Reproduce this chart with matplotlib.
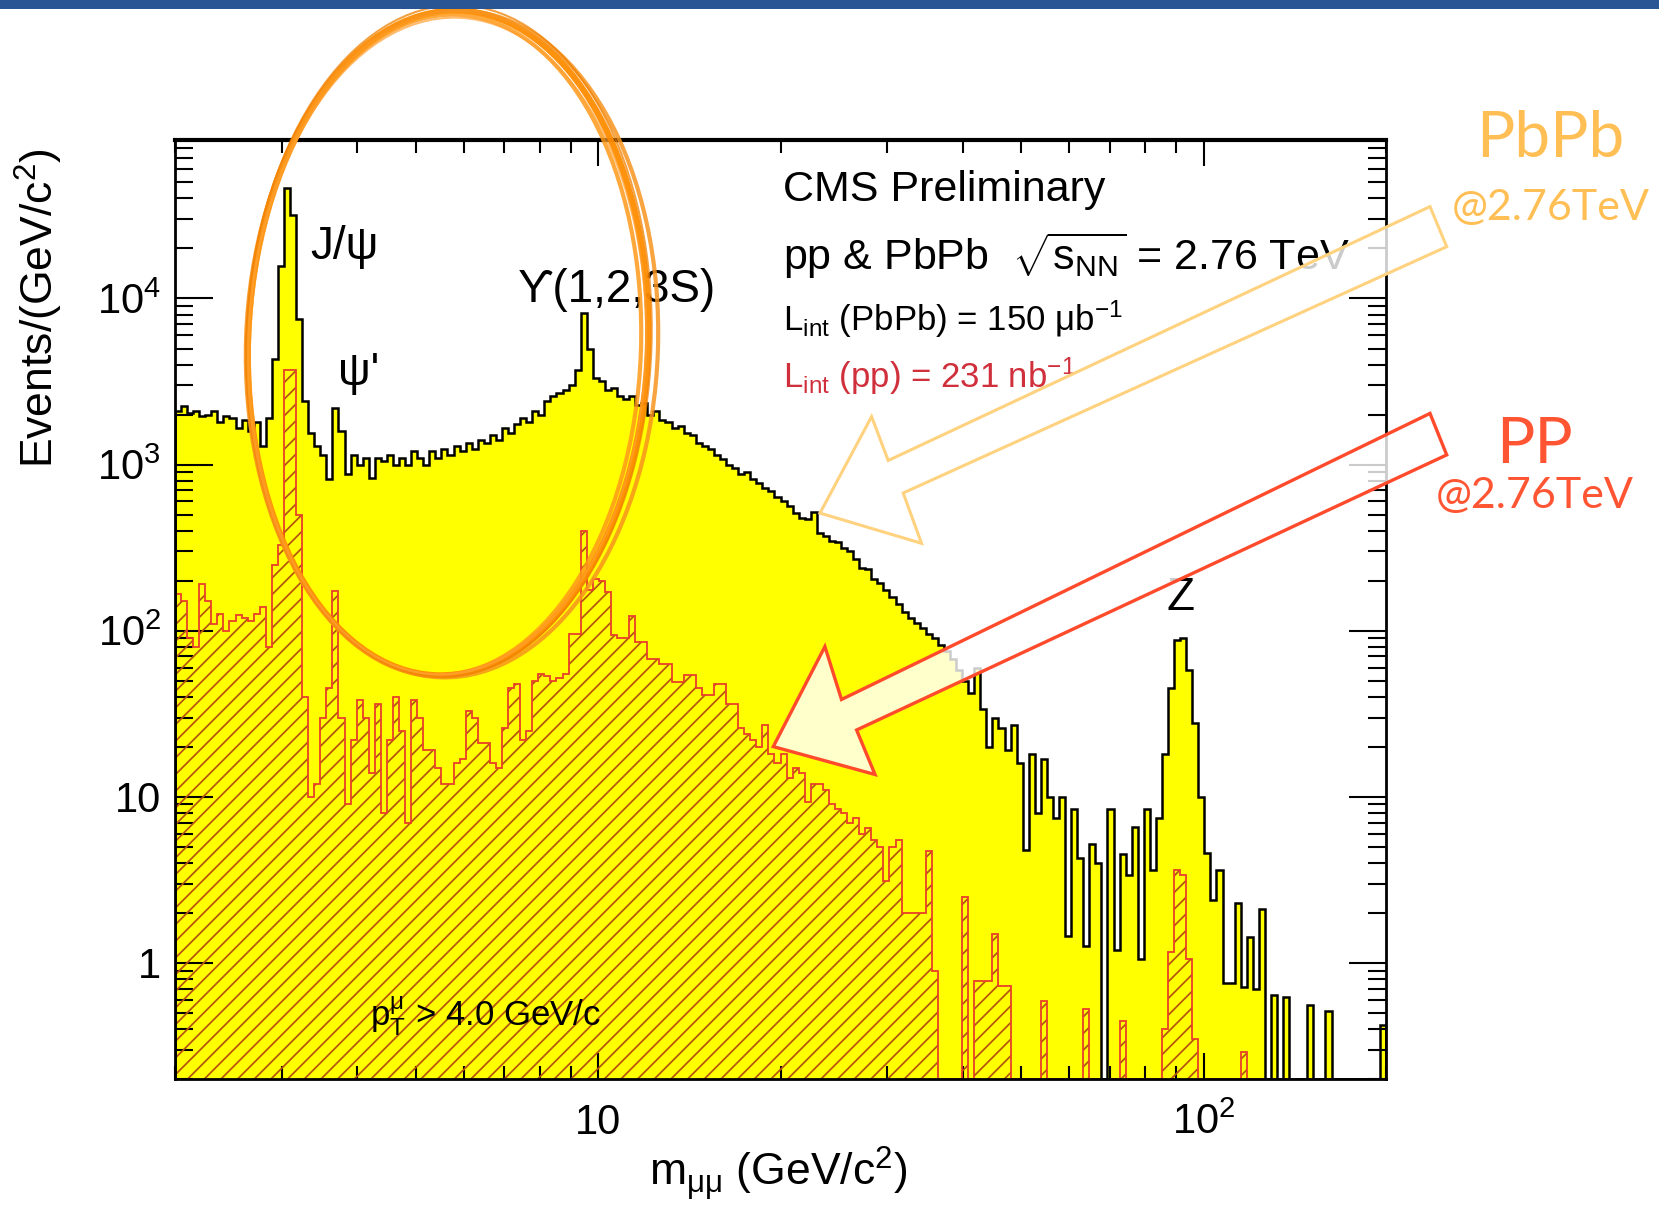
import numpy as np
import matplotlib
matplotlib.use("Agg")
import matplotlib.pyplot as plt
import matplotlib.patches as mpatches
import matplotlib.transforms as mtransforms
from matplotlib.ticker import FixedLocator, FixedFormatter, NullFormatter

plt.rcParams["font.family"] = ["Liberation Sans", "DejaVu Sans"]
plt.rcParams["mathtext.fontset"] = "custom"
plt.rcParams["mathtext.rm"] = "Liberation Sans"
plt.rcParams["mathtext.it"] = "Liberation Sans:italic"
plt.rcParams["mathtext.bf"] = "Liberation Sans:bold"
plt.rcParams["hatch.linewidth"] = 1.25

# dimuon mass spectrum, log-spaced bins from 2 to 200 GeV/c^2
mass_range = (2.0, 200.0)
n_bins = 200

pbpb_counts = [
    2100, 2250, 2050, 2100, 1950, 2000, 2100, 1800, 1950, 1900,
    1650, 1850, 1600, 1800, 1300, 1900, 4300, 15600, 46000, 32000,
    7500, 2400, 1550, 1300, 1150, 820, 2200, 1600, 880, 1150,
    1000, 1100, 830, 1100, 1050, 1150, 1000, 1100, 1000, 1200,
    1100, 1000, 1200, 1100, 1250, 1150, 1300, 1200, 1350, 1250,
    1400, 1350, 1500, 1400, 1650, 1550, 1750, 1900, 1800, 2100,
    2000, 2400, 2600, 2700, 2800, 3000, 3700, 8200, 5000, 3300,
    3200, 2800, 2900, 2600, 2500, 2600, 2300, 2350, 2000, 2100,
    1850, 1800, 1650, 1700, 1550, 1500, 1350, 1300, 1250, 1150,
    1080, 1000, 950, 880, 900, 820, 780, 720, 690, 640,
    600, 560, 510, 480, 470, 520, 390, 370, 345, 340,
    315, 300, 270, 240, 235, 205, 195, 175, 160, 145,
    130, 120, 112, 104, 96, 90, 82, 75, 68, 58,
    50, 42, 60, 34, 20, 30, 26, 19, 27, 16,
    4.8, 18, 8, 17, 10, 7.5, 10, 1.45, 8.4, 4.3,
    1.27, 5.2, 4.0, 0, 8.4, 1.2, 4.5, 3.4, 6.6, 1.05,
    8.4, 3.6, 7.5, 18, 45, 88, 90, 58, 28, 10,
    4.6, 2.4, 3.6, 0.76, 0.76, 2.3, 0.72, 1.44, 0.7, 2.1,
    0, 0.64, 0, 0.62, 0, 0, 0, 0.56, 0, 0,
    0.51, 0, 0, 0, 0, 0, 0, 0, 0, 0.42,
]

pp_counts = [
    166, 150, 90, 80, 191, 150, 110, 126, 100, 115,
    125, 120, 115, 126, 138, 80, 250, 330, 3700, 3700,
    500, 40, 10, 12, 30, 45, 174, 30, 9, 22,
    38, 30, 14, 36, 8, 22, 40, 25, 7, 38,
    30, 19, 19, 15, 12, 12, 16, 17, 33, 30,
    21, 21, 16, 15, 26, 45, 48, 22, 25, 50,
    55, 53, 50, 52, 55, 95, 95, 400, 175, 205,
    200, 170, 94, 90, 90, 123, 86, 86, 68, 68,
    63, 63, 49, 49, 54, 54, 45, 41, 41, 48,
    48, 36, 36, 26, 24, 22, 20, 27, 18, 16,
    18, 13, 15, 14, 9.3, 12, 12, 11, 9, 8.5,
    8, 7, 7.5, 6, 6.5, 5.5, 5, 3.1, 5, 5.5,
    2.0, 2.0, 2.0, 2.0, 4.7, 0.9, 0, 0, 0, 0,
    2.5, 0, 0.78, 0.78, 0.78, 1.5, 0.73, 0.73, 0, 0,
    0, 0, 0, 0.59, 0, 0, 0, 0, 0, 0,
    0.53, 0, 0, 0, 0, 0, 0.45, 0, 0, 0,
    0, 0, 0, 0.4, 1.16, 3.6, 3.4, 1.05, 0.35, 0,
    0, 0, 0, 0, 0, 0, 0.29, 0, 0, 0,
    0, 0, 0, 0, 0, 0, 0, 0, 0, 0,
    0, 0, 0, 0, 0, 0, 0, 0, 0, 0,
]

y_range = (0.2, 9e4)
y_ticks = [1, 10, 1e2, 1e3, 1e4]
y_tick_labels = ["1", "10", "$10^{2}$", "$10^{3}$", "$10^{4}$"]
x_ticks = [10, 100]
x_tick_labels = ["10", "$10^{2}$"]

W, H = 1659, 1205
fig = plt.figure(figsize=(W / 100, H / 100), dpi=100)
# pixel coordinates measured from the top-left corner
pix = mtransforms.Affine2D().scale(1 / W, -1 / H).translate(0, 1) + fig.transFigure

ax = fig.add_axes([175 / W, 1 - 1079 / H, (1386 - 175) / W, (1079 - 140) / H])
ax.set_xscale("log")
ax.set_yscale("log")
ax.set_xlim(*mass_range)
ax.set_ylim(*y_range)

edges = np.logspace(np.log10(mass_range[0]), np.log10(mass_range[1]), n_bins + 1)
floor = y_range[0]
pbpb = np.where(np.array(pbpb_counts) > 0, pbpb_counts, floor)
pp = np.where(np.array(pp_counts) > 0, pp_counts, floor)

ax.stairs(pbpb, edges, baseline=floor, fill=True, facecolor="#FFFF00",
          edgecolor="none", linewidth=0, zorder=1)
ax.stairs(pp, edges, baseline=floor, fill=True, facecolor="none",
          edgecolor="#B5540E", hatch="//", linewidth=0, zorder=2)
ax.stairs(pp, edges, baseline=floor, color="#E8402A", linewidth=1.3, zorder=3)
ax.stairs(pbpb, edges, baseline=floor, color="black", linewidth=1.8, zorder=4)

# ROOT-like frame: ticks inside on all four sides
x_minor = [m * 10 ** e for e in range(0, 3) for m in range(2, 10)
           if mass_range[0] <= m * 10 ** e <= mass_range[1]]
y_minor = [m * 10.0 ** e for e in range(-1, 5) for m in range(2, 10)
           if y_range[0] <= m * 10.0 ** e <= y_range[1]]
ax.xaxis.set_major_locator(FixedLocator(x_ticks))
ax.xaxis.set_major_formatter(FixedFormatter(x_tick_labels))
ax.xaxis.set_minor_locator(FixedLocator(x_minor))
ax.xaxis.set_minor_formatter(NullFormatter())
ax.yaxis.set_major_locator(FixedLocator(y_ticks))
ax.yaxis.set_major_formatter(FixedFormatter(y_tick_labels))
ax.yaxis.set_minor_locator(FixedLocator(y_minor))
ax.yaxis.set_minor_formatter(NullFormatter())

ax.tick_params(axis="both", which="both", direction="in", top=True, right=True,
               width=1.5, colors="black")
ax.tick_params(axis="y", which="major", length=27, pad=10, labelsize=30)
ax.tick_params(axis="y", which="minor", length=13)
ax.tick_params(axis="x", which="major", length=19, pad=17, labelsize=30)
ax.tick_params(axis="x", which="minor", length=9.5)
for side in ax.spines.values():
    side.set_linewidth(2.0)
    side.set_zorder(5)
ax.spines["top"].set_linewidth(3.0)

fig.text(39, 148, "Events/(GeV/c$^{2}$)", transform=pix, rotation=90,
         ha="center", va="top", fontsize=32)
fig.text(778, 1174, "m$_{\\mathrm{μμ}}$ (GeV/c$^{2}$)", transform=pix,
         ha="center", va="center", fontsize=32)

# resonance labels
fig.text(310, 259, "J/ψ", transform=pix, fontsize=33, va="baseline", zorder=3)
fig.text(338, 385, "ψ'", transform=pix, fontsize=33, va="baseline", zorder=3)
fig.text(518, 302, "ϒ(1,2,3S)", transform=pix, fontsize=33, va="baseline", zorder=3)
fig.text(1167, 610, "Z", transform=pix, fontsize=33, va="baseline", zorder=3)

fig.text(783, 201, "CMS Preliminary", transform=pix, fontsize=31, va="baseline", zorder=3)
fig.text(783, 270, "pp & PbPb  $\\sqrt{\\mathrm{s}_{\\mathrm{NN}}}$ = 2.76 TeV",
         transform=pix, fontsize=31, va="baseline", zorder=3)
fig.text(783, 331, "L$_{\\mathrm{int}}$ (PbPb) = 150 μb$^{\\mathrm{-1}}$",
         transform=pix, fontsize=25, va="baseline", zorder=3)
fig.text(783, 388, "L$_{\\mathrm{int}}$ (pp) = 231 nb$^{\\mathrm{-1}}$",
         transform=pix, fontsize=25, va="baseline", color="#D0303C", zorder=3)
fig.text(370, 1026, "p$_{\\mathrm{T}}^{\\mathrm{μ}}$ > 4.0 GeV/c",
         transform=pix, fontsize=25, va="baseline", zorder=3)

# highlighted quarkonium region, a few overlapping pen strokes
ring_strokes = [
    (448, 343, 400, 665, 4.5, "#FF8C00", 0.95),
    (452, 344, 412, 667, 3.0, "#F7941E", 0.85),
    (445, 345, 392, 661, 3.0, "#FF9A1A", 0.85),
    (449, 341, 405, 672, 1.5, "#F08000", 0.75),
    (447, 346, 398, 657, 1.5, "#FFA030", 0.7),
]
for cx, cy, w, h, lw, col, a in ring_strokes:
    fig.add_artist(mpatches.Ellipse((cx, cy), w, h, angle=2, transform=pix,
                                    fill=False, edgecolor=col, linewidth=lw,
                                    alpha=a, zorder=6))

# block arrows pointing at each spectrum
pbpb_arrow = [(1430, 206.6), (1446.7, 246.7), (903.2, 493), (921.5, 543.3),
              (820, 513.1), (871.6, 416.6), (888.2, 460.5)]
pp_arrow = [(1430, 413.4), (1446.7, 454.9), (856.6, 730), (875, 774.5),
            (773.3, 746.6), (824.9, 646.6), (841.5, 699.5)]
fig.add_artist(mpatches.Polygon(pbpb_arrow, closed=True, transform=pix,
                                facecolor=(1, 1, 1, 0.8), edgecolor="#FFD27F",
                                linewidth=2.2, zorder=7))
fig.add_artist(mpatches.Polygon(pp_arrow, closed=True, transform=pix,
                                facecolor=(1, 1, 1, 0.8), edgecolor="#FF4B2B",
                                linewidth=2.4, zorder=7))

fig.text(1550, 157, "PbPb", transform=pix, fontsize=46, ha="center",
         va="baseline", color="#FFBF55", family="Lato", zorder=8)
fig.text(1551, 220, "@2.76TeV", transform=pix, fontsize=31, ha="center",
         va="baseline", color="#FFBF55", family="Lato", zorder=8)
fig.text(1535, 463, "PP", transform=pix, fontsize=46, ha="center",
         va="baseline", color="#FF5533", family="Lato", zorder=8)
fig.text(1535, 508, "@2.76TeV", transform=pix, fontsize=31, ha="center",
         va="baseline", color="#FF5533", family="Lato", zorder=8)

# slide header bar
fig.add_artist(mpatches.Rectangle((0, 0), W, 9, transform=pix,
                                  facecolor="#2A5595", edgecolor="none", zorder=9))

fig.savefig("out.png", dpi=100, facecolor="white")
